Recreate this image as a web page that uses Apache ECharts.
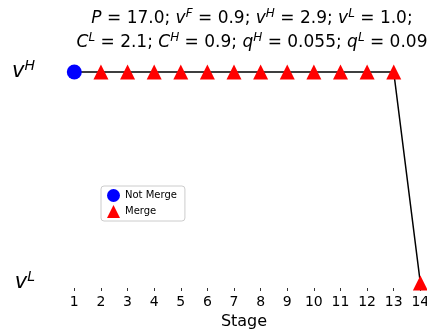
<!DOCTYPE html>
<html><head><meta charset="utf-8">
<script src="https://cdn.jsdelivr.net/npm/echarts@6/dist/echarts.min.js"></script>
<style>html,body{margin:0;padding:0;background:#fff}#c{width:427px;height:334px}</style>
</head><body><div id="c"></div>
<script>
const stages = [1,2,3,4,5,6,7,8,9,10,11,12,13,14];
const vH = 2.9, vL = 1.0;
const levels = [2.9,2.9,2.9,2.9,2.9,2.9,2.9,2.9,2.9,2.9,2.9,2.9,2.9,1.0];
const merged = [0,1,1,1,1,1,1,1,1,1,1,1,1,1];
const yTickValues = [1.0, 2.9];
const yTickLabels = ['{i|v}{sup|L}', '{i|v}{sup|H}'];
const legendNames = ['Not Merge', 'Merge'];

const notMergeData = [], mergeData = [], lineData = [];
stages.forEach((s,i)=>{
  lineData.push([s, levels[i]]);
  (merged[i] ? mergeData : notMergeData).push([s, levels[i]]);
});

const F = 'DejaVu Sans';
const rich = {
  n:{fontFamily:F,fontSize:17,fontWeight:'normal',color:'#000'},
  i:{fontFamily:F,fontStyle:'italic',fontWeight:'normal',fontSize:17,color:'#000'},
  sup:{fontFamily:F,fontStyle:'italic',fontWeight:'normal',fontSize:12,color:'#000',padding:[0,0,9,0]}
};
const line1 = '{i|P}{n| = 17.0; }{i|v}{sup|F}{n| = 0.9; }{i|v}{sup|H}{n| = 2.9; }{i|v}{sup|L}{n| = 1.0;}';
const line2 = '{i|C}{sup|L}{n| = 2.1; }{i|C}{sup|H}{n| = 0.9; }{i|q}{sup|H}{n| = 0.055; }{i|q}{sup|L}{n| = 0.09}';

const chart = echarts.init(document.getElementById('c'));
chart.setOption({
  animation:false,
  title:[
    {text:line1,left:252,top:8,textAlign:'center',padding:0,textStyle:{fontWeight:'normal',rich:rich}},
    {text:line2,left:252,top:32,textAlign:'center',padding:0,textStyle:{fontWeight:'normal',rich:rich}}
  ],
  grid:{left:61,right:0,top:60,height:228,outerBoundsMode:'none',containLabel:false},
  legend:{
    orient:'vertical',left:101,top:186,
    data:[{name:legendNames[0],icon:'circle'},{name:legendNames[1],icon:'triangle'}],
    itemWidth:13,itemHeight:13,itemGap:3,
    itemStyle:{opacity:1},
    textStyle:{fontFamily:F,fontSize:10,color:'#000'},
    borderColor:'#ccc',borderWidth:1,borderRadius:3,padding:[3,8,3,6],
    backgroundColor:'#fff'
  },
  xAxis:{
    type:'value',min:0.5,max:14.25,
    name:'Stage',nameLocation:'middle',nameGap:23,
    nameTextStyle:{fontFamily:F,fontSize:16,color:'#000'},
    axisLine:{show:false},
    splitLine:{show:false},
    axisTick:{show:true,length:3,customValues:stages,lineStyle:{color:'#000',width:0.8}},
    axisLabel:{customValues:stages,margin:7,fontFamily:F,fontSize:14,color:'#000'}
  },
  yAxis:{
    type:'value',min:0.955,max:3.008,
    axisLine:{show:false},splitLine:{show:false},
    axisTick:{show:false},
    axisLabel:{customValues:yTickValues,margin:26,
      formatter:(v)=> yTickLabels[yTickValues.indexOf(v)],
      rich:{
        i:{fontFamily:F,fontStyle:'italic',fontSize:21,color:'#000'},
        sup:{fontFamily:F,fontStyle:'italic',fontSize:14,color:'#000',padding:[0,0,12,0]}
      }}
  },
  series:[
    {type:'line',data:lineData,symbol:'none',silent:true,z:1,clip:false,
      lineStyle:{color:'#000',width:1.5}},
    {type:'scatter',name:legendNames[0],data:notMergeData,symbol:'circle',symbolSize:15,clip:false,
      itemStyle:{color:'#0000ff',opacity:1},z:3},
    {type:'scatter',name:legendNames[1],data:mergeData,symbol:'triangle',symbolSize:15,clip:false,
      itemStyle:{color:'#ff0000',opacity:1},z:3}
  ]
});
</script></body></html>
